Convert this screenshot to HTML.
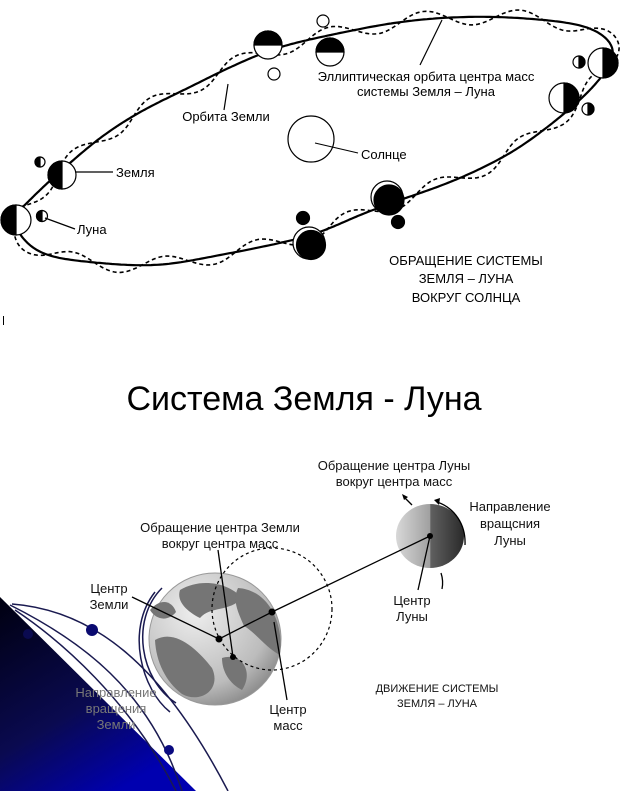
<!DOCTYPE html>
<html><head><meta charset="utf-8"><style>
html,body{margin:0;padding:0;background:#fff;}
svg{display:block;}
text{font-family:"Liberation Sans","DejaVu Sans",sans-serif;}
</style></head><body>
<svg id="s" width="621" height="791" viewBox="0 0 621 791" xmlns="http://www.w3.org/2000/svg">
<defs>
<linearGradient id="tri" x1="0" y1="0" x2="0.6" y2="1">
<stop offset="0" stop-color="#000010"/><stop offset="0.6" stop-color="#0a0a50"/><stop offset="1" stop-color="#0000b0"/></linearGradient>
<radialGradient id="eg" cx="0.35" cy="0.3" r="0.8">
<stop offset="0" stop-color="#eeeeee"/><stop offset="0.7" stop-color="#bcbcbc"/><stop offset="1" stop-color="#808080"/></radialGradient>
<linearGradient id="mg" x1="0" y1="0" x2="1" y2="0">
<stop offset="0" stop-color="#d8d8d8"/><stop offset="0.5" stop-color="#a0a0a0"/><stop offset="0.51" stop-color="#606060"/><stop offset="1" stop-color="#2a2a2a"/></linearGradient>
</defs>

<g fill="none" stroke="#000">
<path id="solid" stroke-width="2.2"/>
<path id="wave" stroke-width="1.6" stroke-dasharray="4,3"/>
</g>
<circle cx="311" cy="139" r="23" fill="#fff" stroke="#000" stroke-width="1.2"/>
<line x1="315" y1="143" x2="358" y2="153" stroke="#000"/>
<text x="361" y="159" font-size="13">Солнце</text>

<g stroke="#000" stroke-width="1.2">
<circle cx="62" cy="175" r="14" fill="#fff"/><path d="M62 161 A14 14 0 0 0 62 189 Z" fill="#000"/>
<circle cx="40" cy="162" r="5" fill="#fff"/><path d="M40 157 A5 5 0 0 0 40 167 Z" fill="#000"/>
<circle cx="16" cy="220" r="15" fill="#fff"/><path d="M16 205 A15 15 0 0 0 16 235 Z" fill="#000"/>
<circle cx="42" cy="216" r="5.5" fill="#fff"/><path d="M42 210.5 A5.5 5.5 0 0 0 42 221.5 Z" fill="#000"/>
<circle cx="268" cy="45" r="14" fill="#fff"/><path d="M254 45 A14 14 0 0 1 282 45 Z" fill="#000"/>
<circle cx="330" cy="52" r="14" fill="#fff"/><path d="M316 52 A14 14 0 0 1 344 52 Z" fill="#000"/>
<circle cx="323" cy="21" r="6" fill="#fff"/>
<circle cx="274" cy="74" r="6" fill="#fff"/>
<circle cx="603" cy="63" r="15" fill="#fff"/><path d="M603 48 A15 15 0 0 1 603 78 Z" fill="#000"/>
<circle cx="579" cy="62" r="6" fill="#fff"/><path d="M579 56 A6 6 0 0 1 579 68 Z" fill="#000"/>
<circle cx="564" cy="98" r="15" fill="#fff"/><path d="M564 83 A15 15 0 0 1 564 113 Z" fill="#000"/>
<circle cx="588" cy="109" r="6" fill="#fff"/><path d="M588 103 A6 6 0 0 1 588 115 Z" fill="#000"/>
<circle cx="387" cy="197" r="16" fill="#fff"/><circle cx="389" cy="200" r="15" fill="#000"/>
<circle cx="398" cy="222" r="6.5" fill="#000"/>
<circle cx="303" cy="218" r="6.5" fill="#000"/>
<circle cx="309" cy="243" r="16" fill="#fff"/><circle cx="311" cy="245" r="14.5" fill="#000"/>
</g>
<g stroke="#000" stroke-width="1.2">
<line x1="75" y1="172" x2="113" y2="172"/>
<line x1="45" y1="218" x2="75" y2="229"/>
<line x1="224" y1="110" x2="228" y2="84"/>
<line x1="420" y1="65" x2="442" y2="20"/>
</g>
<g font-size="13" text-anchor="middle">
<text x="426" y="81">Эллиптическая орбита центра масс</text>
<text x="426" y="96">системы Земля – Луна</text>
<text x="226" y="121">Орбита Земли</text>
<text x="466" y="265">ОБРАЩЕНИЕ СИСТЕМЫ</text>
<text x="466" y="283">ЗЕМЛЯ – ЛУНА</text>
<text x="466" y="302">ВОКРУГ СОЛНЦА</text>
</g>
<text x="116" y="177" font-size="13">Земля</text>
<text x="77" y="234" font-size="13">Луна</text>
<line x1="3.5" y1="316" x2="3.5" y2="325" stroke="#000" stroke-width="1"/>

<text x="304" y="410" font-size="34" text-anchor="middle">Система Земля - Луна</text>

<path d="M0 597 L196 791 L0 791 Z" fill="url(#tri)"/>
<g fill="none" stroke="#1a1a50" stroke-width="1.5">
<path d="M12 604 C90 610 160 660 228 791"/>
<path d="M10 605 C80 640 150 690 182 791"/>
<path d="M15 610 C60 640 130 700 176 791"/>
<path d="M162 588 C130 620 140 680 176 703"/>
<path d="M155 592 C125 630 142 690 170 712"/>
</g>
<circle cx="92" cy="630" r="6" fill="#0a0a70"/>
<circle cx="28" cy="634" r="5" fill="#0a0a50"/>
<circle cx="169" cy="750" r="5" fill="#0a0a80"/>
<g font-size="13" text-anchor="middle" fill="#777">
<text x="116" y="697">Направление</text>
<text x="116" y="713">вращения</text>
<text x="116" y="729">Земли</text>
</g>

<circle cx="215" cy="639" r="66" fill="url(#eg)" stroke="#999"/>
<g fill="#757575">
<path d="M180 590 C200 578 228 582 242 598 C230 612 210 606 200 618 C188 612 176 602 180 590Z"/>
<path d="M238 588 C268 590 284 622 280 655 C266 648 255 632 244 626 C238 612 232 600 238 588Z"/>
<path d="M155 640 C175 628 198 650 212 668 C222 690 200 704 182 694 C166 682 156 662 155 640Z"/>
<path d="M222 658 C242 652 254 672 242 690 C230 684 222 672 222 658Z"/>
<path d="M150 610 C160 598 172 600 176 612 C168 622 156 620 150 610Z"/>
</g>
<ellipse cx="272" cy="609" rx="60" ry="61" fill="none" stroke="#000" stroke-width="1.2" stroke-dasharray="3,3"/>

<ellipse cx="430" cy="536" rx="34" ry="32" fill="url(#mg)"/>
<g fill="none" stroke="#000" stroke-width="1.3">
<line x1="219" y1="639" x2="272" y2="612"/>
<line x1="272" y1="612" x2="430" y2="536"/>
<line x1="218" y1="550" x2="233" y2="657"/>
<line x1="132" y1="597" x2="219" y2="639"/>
<line x1="287" y1="700" x2="274" y2="622"/>
<line x1="418" y1="590" x2="430" y2="536"/>
<line x1="412" y1="505" x2="404" y2="497"/>
<path d="M437 502 C455 508 466 525 465 545"/>
<path d="M441 573 C443 579 443 584 442 589"/>
</g>
<path d="M402 494 L408 497 L404 500Z" fill="#000"/>
<path d="M434 500 L440 498 L439 505Z" fill="#000"/>
<circle cx="219" cy="639" r="3.5" fill="#000"/>
<circle cx="272" cy="612" r="3.5" fill="#000"/>
<circle cx="233" cy="657" r="3" fill="#000"/>
<circle cx="430" cy="536" r="3" fill="#000"/>

<g font-size="13" text-anchor="middle" fill="#111">
<text x="394" y="470">Обращение центра Луны</text>
<text x="394" y="486">вокруг центра масс</text>
<text x="510" y="511">Направление</text>
<text x="510" y="528">вращсния</text>
<text x="510" y="545">Луны</text>
<text x="220" y="532">Обращение центра Земли</text>
<text x="220" y="548">вокруг центра масс</text>
<text x="109" y="593">Центр</text>
<text x="109" y="609">Земли</text>
<text x="412" y="605">Центр</text>
<text x="412" y="621">Луны</text>
<text x="288" y="714">Центр</text>
<text x="288" y="730">масс</text>
<text x="437" y="692" font-size="11">ДВИЖЕНИЕ СИСТЕМЫ</text>
<text x="437" y="707" font-size="11">ЗЕМЛЯ – ЛУНА</text>
</g>
</svg>
<script>
(function(){
var P=[[14,222],[40,253],[100,263],[160,265],[220,255],[280,243],[320,232],[360,215],[400,200],[440,186],[480,169],[520,147],[560,117],[592,88],[612,60],[608,40],[580,25],[520,18],[460,17],[400,22],[340,33],[280,47],[235,65],[188,88],[140,112],[100,138],[62,170],[32,198]];
var n=P.length,pts=[];
for(var i=0;i<n;i++){
var p0=P[(i-1+n)%n],p1=P[i],p2=P[(i+1)%n],p3=P[(i+2)%n];
for(var k=0;k<20;k++){var t=k/20,t2=t*t,t3=t2*t;
var f=function(a,b,c,d){return 0.5*((2*b)+(-a+c)*t+(2*a-5*b+4*c-d)*t2+(-a+3*b-3*c+d)*t3);};
pts.push([f(p0[0],p1[0],p2[0],p3[0]),f(p0[1],p1[1],p2[1],p3[1])]);}
}
var m=pts.length;
for(var pass=0;pass<40;pass++){var q=[];for(var i=0;i<m;i++){var a=pts[(i-1+m)%m],b=pts[i],c=pts[(i+1)%m];q.push([(a[0]+2*b[0]+c[0])/4,(a[1]+2*b[1]+c[1])/4]);}pts=q;}
var d="",w="",L=0,len=[0];
for(var i=1;i<m;i++){L+=Math.hypot(pts[i][0]-pts[i-1][0],pts[i][1]-pts[i-1][1]);len.push(L);}
for(var i=0;i<m;i++){
var a=pts[(i-1+m)%m],b=pts[(i+1)%m],tx=b[0]-a[0],ty=b[1]-a[1],l=Math.hypot(tx,ty);
var nx=-ty/l,ny=tx/l,o=8*Math.sin(len[i]/95*2*Math.PI);
d+=(i?"L":"M")+pts[i][0].toFixed(1)+" "+pts[i][1].toFixed(1);
w+=(i?"L":"M")+(pts[i][0]+nx*o).toFixed(1)+" "+(pts[i][1]+ny*o).toFixed(1);
}
document.getElementById("solid").setAttribute("d",d+"Z");
document.getElementById("wave").setAttribute("d",w+"Z");
})();
</script>
</body></html>
